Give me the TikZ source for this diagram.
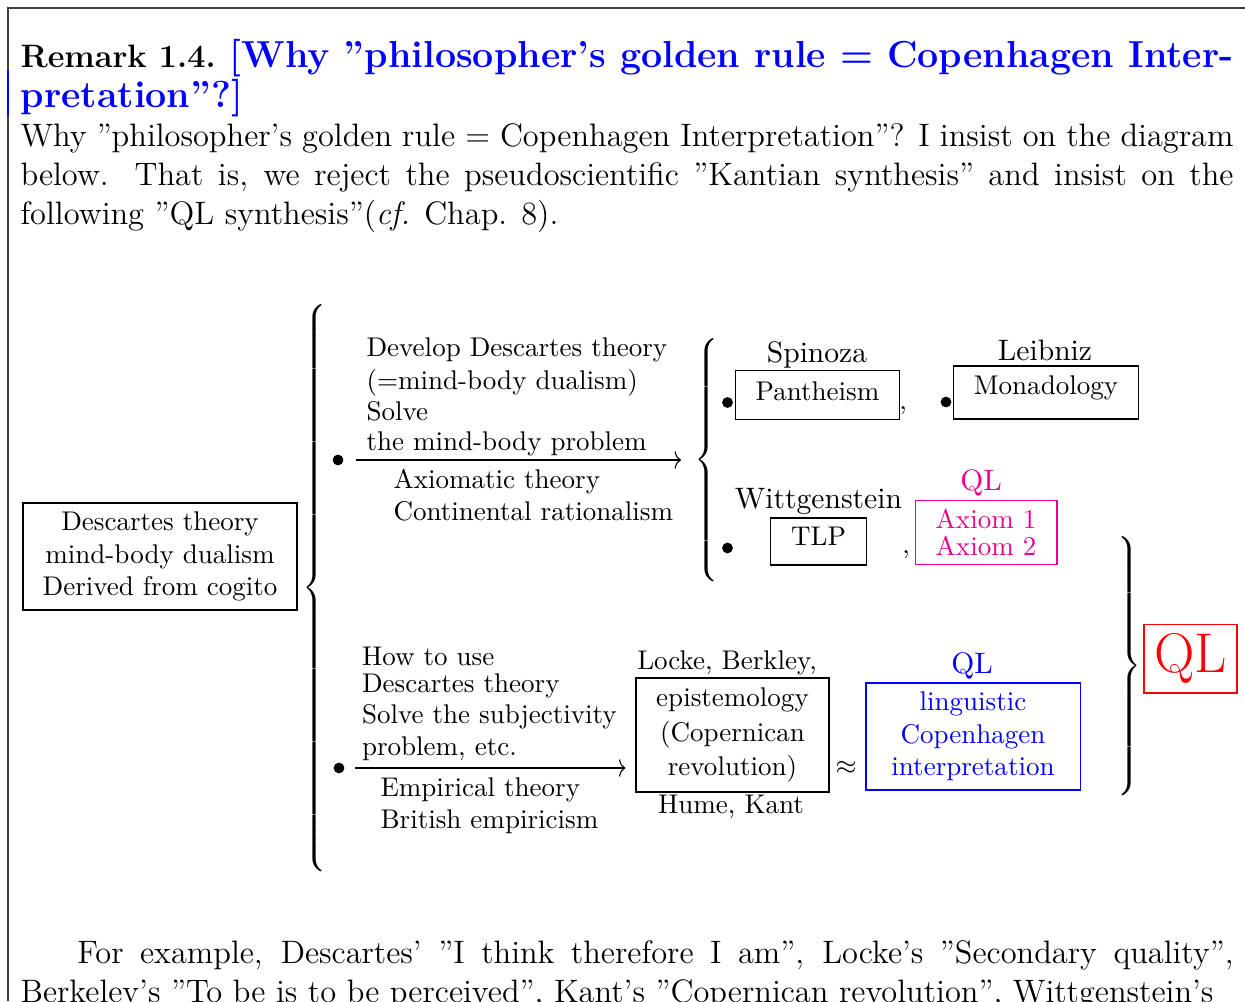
\documentclass[tikz,border=0pt]{standalone}
\usepackage{xcolor}
\usetikzlibrary{arrows.meta}
\definecolor{qlpink}{RGB}{236,0,140}
\begin{document}
\begin{tikzpicture}[x=0.37pt,y=-0.37pt,>={To[length=2.4pt,width=6.4pt]},
  box/.style={draw,inner sep=0pt,align=center},
  dot/.style={circle,fill,inner sep=0pt,minimum size=4pt},
  txt/.style={inner sep=0pt,align=left},
  lab/.style={inner sep=0pt,anchor=base},
  who/.style={lab,font=\fontsize{10.95}{13.6}\selectfont},
  para/.style={anchor=base west,inner sep=0pt,text width=448.8pt,align=justify,
    font=\fontsize{12}{14.5}\selectfont}]

  \useasboundingbox (0,0) rectangle (1245,1001);
  \clip (0,0) rectangle (1245,1001);

  \draw[black!75,line width=0.4pt] (1245,8) -- (8,8) -- (8,1001);
  \draw[blue,line width=0.4pt] (8,70) -- (8,116);

  \node[para] (head) at (20,68)
   {\textbf{Remark 1.4.} {\color{blue}\fontsize{13.9}{14.5}\selectfont\bfseries
    [Why ''philosopher's golden rule = Copenhagen Inter-\linebreak pretation''?]}\\
    Why ''philosopher's golden rule = Copenhagen Interpretation''? I insist on the diagram\linebreak
    below. That is, we reject the pseudoscientific ''Kantian synthesis'' and insist on the\linebreak
    following ''QL synthesis''(\textit{cf.} Chap. 8).};

  \node[box,minimum width=101.4pt,minimum height=39.6pt] (1) at (160,556.5)
   {Descartes theory\\mind-body dualism\\Derived from cogito};
  \node[inner sep=0pt,anchor=west] (2) at (302,588)
   {$\left\{\vcenter{\hbox{\rule{0pt}{214pt}}}\right.$};

  \node[dot] (3) at (338,460) {};
  \node[txt,anchor=base west] (t3a) at (366,450)
   {Develop Descartes theory\\[0.3pt](=mind-body dualism)\\[-0.5pt]Solve\\[-1.2pt]the mind-body problem};
  \node[txt,anchor=base west] (t3b) at (393,520)
   {Axiomatic theory\\[-0.2pt]Continental rationalism};
  \node[inner sep=0pt,anchor=west] (4) at (694,460)
   {$\left\{\vcenter{\hbox{\rule{0pt}{94pt}}}\right.$};

  \node[dot] (5) at (727.5,402.5) {};
  \node[box,text depth=3.2pt,minimum width=61pt,minimum height=17.8pt] (6) at (817.5,395) {Pantheism};
  \node[who] (l6) at (817,362) {Spinoza};
  \node[lab] (c6) at (903,409) {,};
  \node[dot] (7) at (946,402) {};
  \node[box,text depth=5.8pt,minimum width=68.5pt,minimum height=19.6pt] (8) at (1046,392.5) {Monadology};
  \node[who] (l8) at (1045,360) {Leibniz};

  \node[who] (l10) at (818.5,508) {Wittgenstein};
  \node[dot] (9) at (727.5,548) {};
  \node[box,text depth=4.2pt,minimum width=35.2pt,minimum height=17.4pt] (10) at (818.5,541.5) {TLP};
  \node[lab] (c10) at (906,553) {,};
  \node[who,text=qlpink] (l11) at (981,490) {QL};
  \node[box,draw=qlpink,text=qlpink,minimum width=52.5pt,minimum height=24pt] (11) at (986,532.5)
   {Axiom 1\\[-2pt]Axiom 2};

  \node[inner sep=0pt,anchor=east] (12) at (1142,666)
   {$\left.\vcenter{\hbox{\rule{0pt}{101pt}}}\right\}$};
  \node[box,draw=red,text=red,font=\huge,minimum width=34.4pt,minimum height=25.5pt] (13) at (1190.5,658.5) {QL};

  \node[dot] (14) at (339,768) {};
  \node[txt,anchor=base west] (t14a) at (361.5,755)
   {How to use\\[-2pt]Descartes theory\\[-0.5pt]Solve the subjectivity\\[-0.5pt]problem, etc.};
  \node[txt,anchor=base west] (t14b) at (380,828.3)
   {Empirical theory\\[-0.2pt]British empiricism};
  \node[box,minimum width=71.4pt,minimum height=42.2pt] (15) at (732.5,735)
   {epistemology\\[0.6pt](Copernican\\[0.6pt]revolution)};
  \node[lab] (l15a) at (727,669) {Locke, Berkley,};
  \node[lab] (l15b) at (731,813) {Hume, Kant};
  \node[inner sep=0pt] (ap) at (846,767.5) {$\approx$};
  \node[who,text=blue] (l16) at (972,673) {QL};
  \node[box,draw=blue,text=blue,minimum width=79.2pt,minimum height=39.6pt] (16) at (973,736.5)
   {linguistic\\Copenhagen\\interpretation};

  \path[->]
   (3) edge[shorten <=4.3pt,shorten >=4.8pt] (4)
   (14) edge[shorten <=3.9pt,shorten >=3.7pt] (15.west |- 14);

  \node[para] (foot) at (20,963)
   {\parfillskip=0pt\hspace*{21pt}For example, Descartes' ''I think therefore I am'', Locke's ''Secondary quality'',\linebreak
    Berkeley's ''To be is to be perceived'', Kant's ''Copernican revolution'', Wittgenstein's};
\end{tikzpicture}
\end{document}
